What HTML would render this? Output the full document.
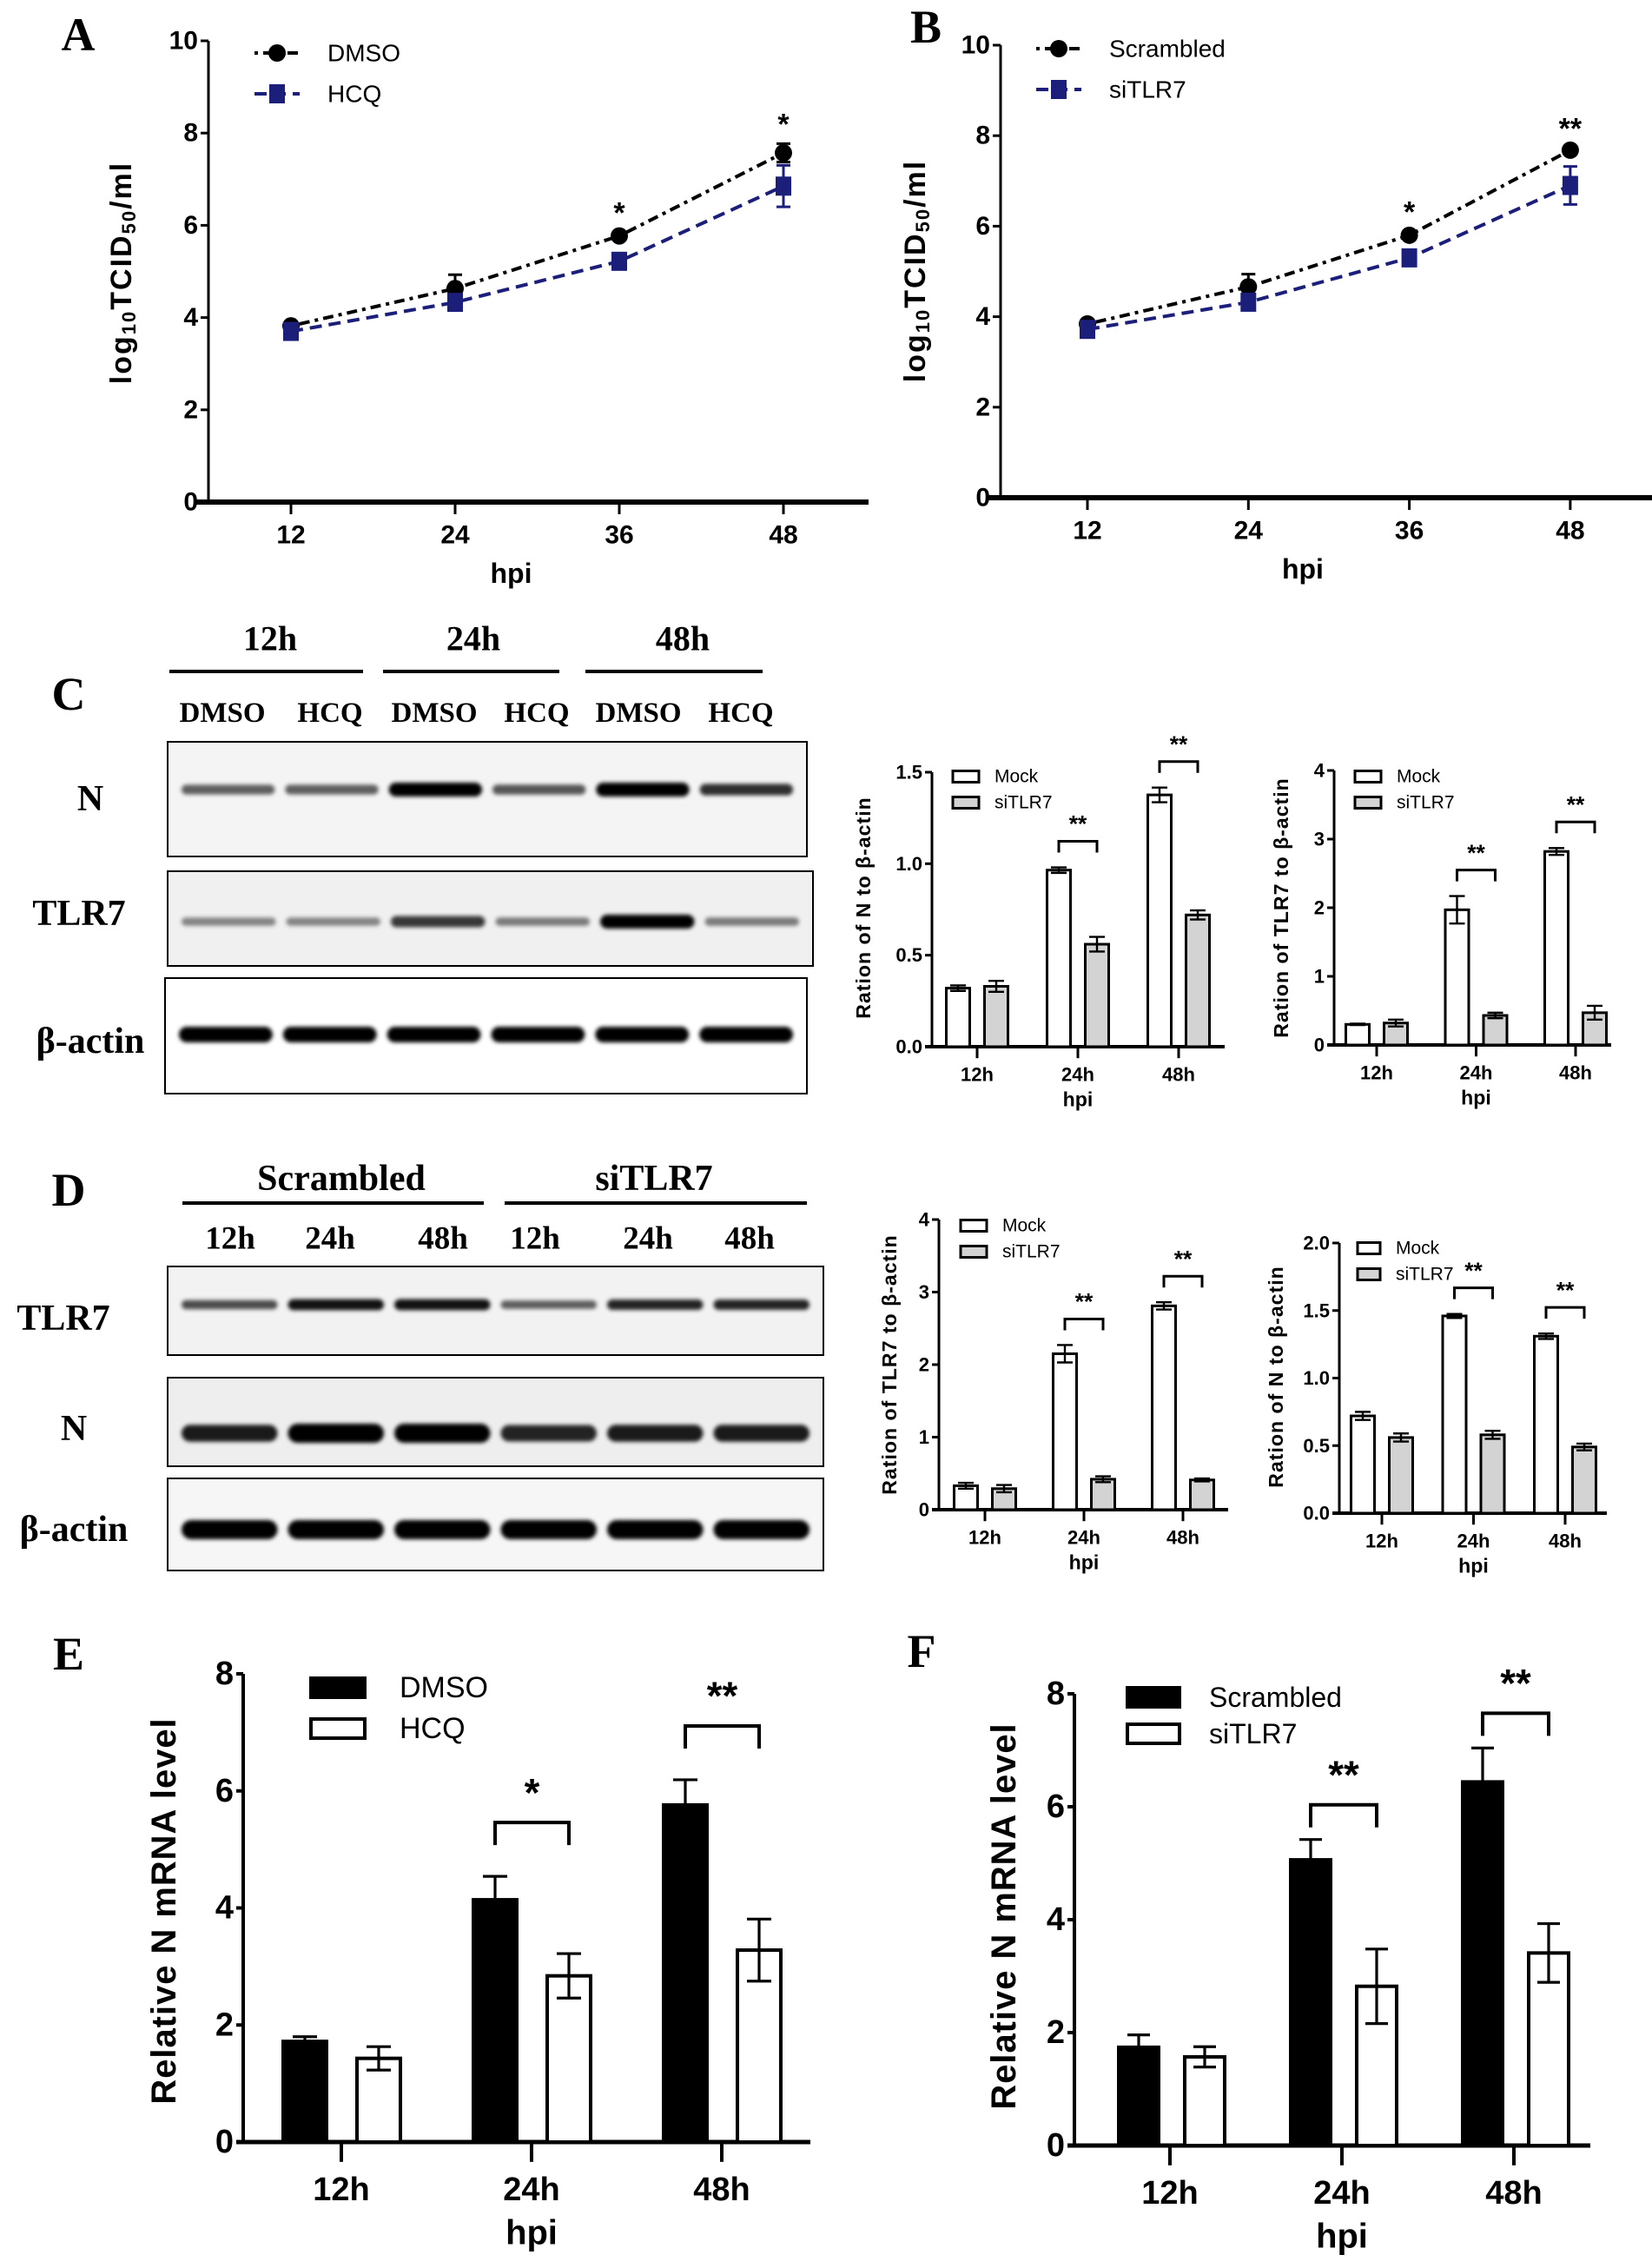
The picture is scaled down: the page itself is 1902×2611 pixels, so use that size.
<!DOCTYPE html>
<html><head><meta charset="utf-8"><style>
html,body{margin:0;padding:0;background:#fff;}
svg{display:block;}
.t{font-family:"Liberation Sans",sans-serif;font-weight:bold;fill:#000;}
.s{font-family:"Liberation Serif",serif;font-weight:bold;fill:#000;}
</style></head><body>
<svg id="fig" xmlns="http://www.w3.org/2000/svg" width="1902" height="2611" viewBox="0 0 1902 2611">
<defs><filter id="blur" x="-20%" y="-100%" width="140%" height="300%"><feGaussianBlur stdDeviation="2.5"/></filter></defs>
</svg>
<script>
// ---- Panel A / B data (log10 TCID50/ml) ----
const hpiCats = ["12","24","36","48"];
const aDMSO = [3.82,4.63,5.77,7.57];
const aDMSOerr = [0.08,0.3,0.08,0.2];
const aHCQ = [3.7,4.33,5.22,6.85];
const aHCQerr = [0.1,0.12,0.15,0.45];
const aStars = ["","","*","*"];
const bScr = [3.84,4.66,5.8,7.68];
const bScrErr = [0.08,0.28,0.08,0.05];
const bSi = [3.72,4.32,5.3,6.9];
const bSiErr = [0.1,0.12,0.12,0.42];
const bStars = ["","","*","**"];
const lineTicks = [0,2,4,6,8,10];
// ---- Panel C/D small bar charts ----
const hCats = ["12h","24h","48h"];
const cNMock = [0.32,0.965,1.376];
const cNMockErr = [0.015,0.015,0.04];
const cNSi = [0.33,0.56,0.72];
const cNSiErr = [0.03,0.04,0.025];
const cTMock = [0.3,1.97,2.82];
const cTMockErr = [0.01,0.2,0.05];
const cTSi = [0.32,0.43,0.47];
const cTSiErr = [0.05,0.04,0.1];
const dTMock = [0.33,2.15,2.81];
const dTMockErr = [0.04,0.12,0.05];
const dTSi = [0.29,0.42,0.41];
const dTSiErr = [0.05,0.04,0.02];
const dNMock = [0.72,1.46,1.31];
const dNMockErr = [0.03,0.015,0.02];
const dNSi = [0.56,0.58,0.49];
const dNSiErr = [0.03,0.03,0.025];
const smallStars = ["","**","**"];
const ticks15 = [0,0.5,1.0,1.5];
const ticks4 = [0,1,2,3,4];
const ticks2 = [0,0.5,1.0,1.5,2.0];
// ---- Panel E/F ----
const eDMSO = [1.72,4.14,5.76];
const eDMSOerr = [0.08,0.4,0.43];
const eHCQ = [1.43,2.84,3.28];
const eHCQerr = [0.2,0.38,0.53];
const eStars = ["","*","**"];
const fScr = [1.74,5.06,6.44];
const fScrErr = [0.22,0.36,0.6];
const fSi = [1.57,2.82,3.41];
const fSiErr = [0.18,0.66,0.52];
const fStars = ["","**","**"];
const ticks8 = [0,2,4,6,8];
// ---- blot band intensities ----
const cNBands = [0.45,0.45,1,0.5,1,0.7];
const cTBands = [0.25,0.25,0.65,0.3,1,0.3];
const cABands = [1,1,1,1,1,1];
const dTBands = [0.55,0.85,0.85,0.45,0.75,0.75];
const dNBands = [0.8,1,1,0.75,0.8,0.8];
const dABands = [1,1,1,1,1,1];

const NS="http://www.w3.org/2000/svg";
const svg=document.getElementById('fig');
function mk(tag,attrs,parent){const e=document.createElementNS(NS,tag);for(const k in attrs)e.setAttribute(k,attrs[k]);(parent||svg).appendChild(e);return e;}
function txt(x,y,s,size,cls,anchor,parent){const e=mk('text',{x:x,y:y,'font-size':size,class:cls||'t','text-anchor':anchor||'middle','dominant-baseline':'central'},parent);e.textContent=s;return e;}

function panelLetter(x,y,s){const e=txt(x,y,s,54,'s');

}

// ---------- Line chart ----------
function lineChart(o){
  const g=mk('g',{});
  
  
  const y=v=>o.y0-(v/o.max)*(o.y0-o.yTop);
  const x=i=>o.x1+i*o.dx;
  const ax=mk('path',{d:`M${o.ax} ${o.yTop} V${o.y0}`,stroke:'#000','stroke-width':3,fill:'none'},g);
  
  
  const bx=mk('path',{d:`M${o.ax-14} ${o.y0} H${o.xEnd}`,stroke:'#000','stroke-width':6,fill:'none'},g);
  
  
  lineTicks.forEach(v=>{mk('path',{d:`M${o.ax-9} ${y(v)} H${o.ax}`,stroke:'#000','stroke-width':3},g);
    const t=txt(o.ax-12,y(v),String(v),30,'t','end',g);
    
    });
  hpiCats.forEach((c,i)=>{mk('path',{d:`M${x(i)} ${o.y0} V${o.y0+14}`,stroke:'#000','stroke-width':3},g);
    const t=txt(x(i),o.y0+38,c,30,'t','middle',g);
    
    });
  const xt=txt(x(1.5)+(o.hpiShift||0),o.y0+82,'hpi',32,'t','middle',g);
  
  
  const yt=mk('text',{x:0,y:0,'font-size':34,class:'t','text-anchor':'middle','dominant-baseline':'central',transform:`translate(${o.ylx},${o.yly}) rotate(-90)`,'letter-spacing':'2'},g);
  
  
  yt.innerHTML='log<tspan font-size="22" dy="8">10</tspan><tspan dy="-8">TCID</tspan><tspan font-size="22" dy="8">50</tspan><tspan dy="-8">/ml</tspan>';
  o.series.forEach((s,si)=>{
    const pts=s.v.map((v,i)=>`${x(i)},${y(v)}`).join(' ');
    const ln=mk('polyline',{points:pts,fill:'none',stroke:s.c,'stroke-width':4,'stroke-dasharray':s.dash},g);
    
    
    s.v.forEach((v,i)=>{
      const eb=mk('path',{d:`M${x(i)-8} ${y(v+s.e[i])} H${x(i)+8} M${x(i)} ${y(v+s.e[i])} V${y(v-s.e[i])} M${x(i)-8} ${y(v-s.e[i])} H${x(i)+8}`,stroke:s.c,'stroke-width':3,fill:'none'},g);
      
      
      let m;
      if(s.shape==='circle') m=mk('circle',{cx:x(i),cy:y(v),r:10,fill:s.c},g);
      else m=mk('rect',{x:x(i)-9,y:y(v)-11,width:18,height:22,fill:s.c},g);
      
      
    });
    const ly=o.legY+si*47;
    mk('path',{d:`M${o.legX-26} ${ly} H${o.legX+26}`,stroke:s.c,'stroke-width':4,'stroke-dasharray':s.dash},g);
    let lm;
    if(s.shape==='circle') lm=mk('circle',{cx:o.legX,cy:ly,r:10,fill:s.c},g);
    else lm=mk('rect',{x:o.legX-9,y:ly-11,width:18,height:22,fill:s.c},g);
    
    
    const lt=mk('text',{x:o.legX+58,y:ly,'font-size':28,'dominant-baseline':'central',style:'font-family:"Liberation Sans",sans-serif;'},g);
    lt.textContent=s.label;
    
    
  });
  o.stars.forEach((st,i)=>{if(!st)return;
    const top=o.series[0].v[i]+o.series[0].e[i];
    const t=txt(x(i),y(top)-22,st,34,'t','middle',g);
    
    });
}

// ---------- Bar chart ----------
function barChart(o){
  const g=mk('g',{});
  
  
  const y=v=>o.y0-(v/o.max)*(o.y0-o.yTop);
  const x=i=>o.x1+i*o.dx;
  const ax=mk('path',{d:`M${o.ax} ${o.yTop} V${o.y0}`,stroke:'#000','stroke-width':o.lw,fill:'none'},g);
  
  
  const bx=mk('path',{d:`M${o.ax-8} ${o.y0} H${o.xEnd}`,stroke:'#000','stroke-width':o.lw+1,fill:'none'},g);
  
  
  o.ticks.forEach(v=>{mk('path',{d:`M${o.ax-8} ${y(v)} H${o.ax}`,stroke:'#000','stroke-width':o.lw},g);
    const t=txt(o.ax-11,y(v),o.fmt?v.toFixed(1):String(v),o.fs,'t','end',g);
    
    });
  hCats.forEach((c,i)=>{mk('path',{d:`M${x(i)} ${o.y0} V${o.y0+o.fs*0.6}`,stroke:'#000','stroke-width':o.lw},g);
    const t=txt(x(i),o.y0+o.fs*1.45,c,o.fs,'t','middle',g);
    
    });
  const xt=txt(x(1),o.y0+o.fs*2.75,'hpi',o.fs*1.05,'t','middle',g);
  
  
  const yt=mk('text',{x:0,y:0,'font-size':o.fs*1.05,class:'t','text-anchor':'middle','dominant-baseline':'central',transform:`translate(${o.ylx},${o.yly}) rotate(-90)`,'letter-spacing':'1'},g);
  yt.textContent=o.ylabel;
  
  
  o.series.forEach((s,si)=>{
    s.v.forEach((v,i)=>{
      const cx=x(i)+o.off[si];
      const r=mk('rect',{x:cx-o.bw/2,y:y(v),width:o.bw,height:o.y0-y(v),fill:s.fill,stroke:'#000','stroke-width':o.lw},g);
      
      
      const e=s.e[i];
      const eb=mk('path',{d:`M${cx-o.cap} ${y(v+e)} H${cx+o.cap} M${cx} ${y(v+e)} V${y(v-e)} M${cx-o.cap} ${y(v-e)} H${cx+o.cap}`,stroke:'#000','stroke-width':o.lw*0.8,fill:'none'},g);
      
      
    });
    const ly=o.legY+si*o.legDy;
    const lb=mk('rect',{x:o.legX,y:ly-o.legH/2,width:o.legW,height:o.legH,fill:s.fill,stroke:'#000','stroke-width':o.lw},g);
    
    
    const lt=mk('text',{x:o.legX+o.legW+o.legGap,y:ly,'font-size':o.legFs,'dominant-baseline':'central',style:'font-family:"Liberation Sans",sans-serif;'},g);
    lt.textContent=s.label;
    
    
  });
  o.stars.forEach((st,i)=>{if(!st)return;
    const s0=o.series[0];
    const top=y(s0.v[i]+s0.e[i])-o.brOff;
    const xa=x(i)+o.off[0], xb=x(i)+o.off[1];
    const br=mk('path',{d:`M${xa} ${top+o.brH} V${top} H${xb} V${top+o.brH}`,stroke:'#000','stroke-width':o.lw,fill:'none'},g);
    
    
    const t=txt((xa+xb)/2,top-o.fs*0.9,st,o.fs*1.2,'t','middle',g);
    
    });
}

// ---------- Blot ----------
function blot(name,bx,by,bw,bh,bandY,bands,bandH,bg){
  const g=mk('g',{});
  
  
  const r=mk('rect',{x:bx,y:by,width:bw,height:bh,fill:bg,stroke:'#000','stroke-width':2},g);
  
  
  const lw=(bw-20)/bands.length;
  bands.forEach((v,i)=>{
    const h=bandH*(0.45+0.55*v);
    const b=mk('rect',{x:bx+10+i*lw+6,y:bandY-h/2,width:lw-12,height:h,rx:h/2,fill:'#000','fill-opacity':Math.min(1,0.25+0.8*v),filter:'url(#blur)'},g);
    
    
  });
}

// ===== Panel A & B =====
panelLetter(90,40,'A');
lineChart({name:'chart-a-tcid50',ax:240,yTop:47,y0:578,max:10,x1:335,dx:189,xEnd:1000,ylx:140,yly:314,legX:319,legY:61,hpiShift:-30,stars:aStars,
 series:[{n:'dmso',label:'DMSO',v:aDMSO,e:aDMSOerr,c:'#000',dash:'4 6 12 6',shape:'circle'},
         {n:'hcq',label:'HCQ',v:aHCQ,e:aHCQerr,c:'#1b1f7a',dash:'14 8',shape:'square'}]});
panelLetter(1066,31,'B');
lineChart({name:'chart-b-tcid50',ax:1152,yTop:52,y0:573,max:10,x1:1252,dx:185.3,xEnd:1902,ylx:1054,yly:312,legX:1219,legY:56,hpiShift:-30,stars:bStars,
 series:[{n:'scrambled',label:'Scrambled',v:bScr,e:bScrErr,c:'#000',dash:'4 6 12 6',shape:'circle'},
         {n:'sitlr7',label:'siTLR7',v:bSi,e:bSiErr,c:'#1b1f7a',dash:'14 8',shape:'square'}]});

// ===== Panel C =====
panelLetter(79,799,'C');
[['12h',311],['24h',545],['48h',786]].forEach(a=>{const t=txt(a[1],735,a[0],40,'s');});
[[195,418],[441,644],[674,878]].forEach(a=>{const l=mk('path',{d:`M${a[0]} 773 H${a[1]}`,stroke:'#000','stroke-width':4});});
[['DMSO',256],['HCQ',380],['DMSO',500],['HCQ',618],['DMSO',735],['HCQ',853]].forEach(a=>{const t=txt(a[1],821,a[0],33,'s');});
blot('blot-c-n',193,854,736,132,909,cNBands,16,'#f4f4f4');
blot('blot-c-tlr7',193,1003,743,109,1061,cTBands,16,'#f0f0f0');
blot('blot-c-actin',190,1126,739,133,1191,cABands,18,'#fff');
[['N',104,920],['TLR7',91,1052],['β-actin',104,1199]].forEach(a=>{const t=txt(a[1],a[2],a[0],42,'s');});
const smallBase={lw:3,fs:22,bw:27,cap:9,off:[-22,22],legW:30,legH:13,legDy:30,legGap:18,legFs:21,brOff:30,brH:13,stars:smallStars};
barChart(Object.assign({},smallBase,{name:'chart-c-n-ratio',ax:1073,yTop:889,y0:1205,max:1.5,ticks:ticks15,fmt:true,x1:1125,dx:116,xEnd:1410,ylx:994,yly:1045,ylabel:'Ration of N to β-actin',legX:1097,legY:894,
 series:[{n:'mock',label:'Mock',v:cNMock,e:cNMockErr,fill:'#fff'},{n:'sitlr7',label:'siTLR7',v:cNSi,e:cNSiErr,fill:'#d3d3d3'}]}));
barChart(Object.assign({},smallBase,{name:'chart-c-tlr7-ratio',ax:1536,yTop:887,y0:1203,max:4,ticks:ticks4,x1:1585,dx:114.5,xEnd:1855,ylx:1475,yly:1045,ylabel:'Ration of TLR7 to β-actin',legX:1560,legY:894,
 series:[{n:'mock',label:'Mock',v:cTMock,e:cTMockErr,fill:'#fff'},{n:'sitlr7',label:'siTLR7',v:cTSi,e:cTSiErr,fill:'#d3d3d3'}]}));

// ===== Panel D =====
panelLetter(79,1370,'D');
[['Scrambled',393],['siTLR7',753]].forEach(a=>{const t=txt(a[1],1357,a[0],42,'s');});
[[210,557],[581,929]].forEach(a=>{const l=mk('path',{d:`M${a[0]} 1385 H${a[1]}`,stroke:'#000','stroke-width':4});});
[['12h',265],['24h',380],['48h',510],['12h',616],['24h',746],['48h',863]].forEach(a=>{const t=txt(a[1],1426,a[0],37,'s');});
blot('blot-d-tlr7',193,1458,755,102,1502,dTBands,14,'#f2f2f2');
blot('blot-d-n',193,1586,755,102,1650,dNBands,22,'#eeeeee');
blot('blot-d-actin',193,1702,755,106,1761,dABands,22,'#f6f6f6');
[['TLR7',73,1518],['N',85,1645],['β-actin',85,1761]].forEach(a=>{const t=txt(a[1],a[2],a[0],42,'s');});
barChart(Object.assign({},smallBase,{name:'chart-d-tlr7-ratio',ax:1081,yTop:1404,y0:1738,max:4,ticks:ticks4,x1:1134,dx:114,xEnd:1414,ylx:1024,yly:1571,ylabel:'Ration of TLR7 to β-actin',legX:1106,legY:1411,
 series:[{n:'mock',label:'Mock',v:dTMock,e:dTMockErr,fill:'#fff'},{n:'sitlr7',label:'siTLR7',v:dTSi,e:dTSiErr,fill:'#d3d3d3'}]}));
barChart(Object.assign({},smallBase,{name:'chart-d-n-ratio',ax:1542,yTop:1431,y0:1742,max:2,ticks:ticks2,fmt:true,x1:1591,dx:105.5,xEnd:1850,ylx:1469,yly:1585,ylabel:'Ration of N to β-actin',legX:1563,legY:1437,legW:26,
 series:[{n:'mock',label:'Mock',v:dNMock,e:dNMockErr,fill:'#fff'},{n:'sitlr7',label:'siTLR7',v:dNSi,e:dNSiErr,fill:'#d3d3d3'}]}));

// ===== Panel E & F =====
panelLetter(79,1904,'E');
barChart({name:'chart-e-mrna',lw:4,fs:38,bw:50,cap:14,off:[-42,43],legW:62,legH:22,legDy:47,legGap:40,legFs:34,brOff:62,brH:26,stars:eStars,
 ax:280,yTop:1927,y0:2466,max:8,ticks:ticks8,x1:393,dx:219,xEnd:933,ylx:189,yly:2200,ylabel:'Relative N mRNA level',legX:358,legY:1943,
 series:[{n:'dmso',label:'DMSO',v:eDMSO,e:eDMSOerr,fill:'#000'},{n:'hcq',label:'HCQ',v:eHCQ,e:eHCQerr,fill:'#fff'}]});
panelLetter(1061,1901,'F');
barChart({name:'chart-f-mrna',lw:4,fs:38,bw:46,cap:13,off:[-36,40],legW:60,legH:22,legDy:42,legGap:34,legFs:32,brOff:40,brH:26,stars:fStars,
 ax:1237,yTop:1950,y0:2470,max:8,ticks:ticks8,x1:1347,dx:198,xEnd:1831,ylx:1156,yly:2206,ylabel:'Relative N mRNA level',legX:1298,legY:1954,
 series:[{n:'scrambled',label:'Scrambled',v:fScr,e:fScrErr,fill:'#000'},{n:'sitlr7',label:'siTLR7',v:fSi,e:fSiErr,fill:'#fff'}]});
</script>
</body></html>
